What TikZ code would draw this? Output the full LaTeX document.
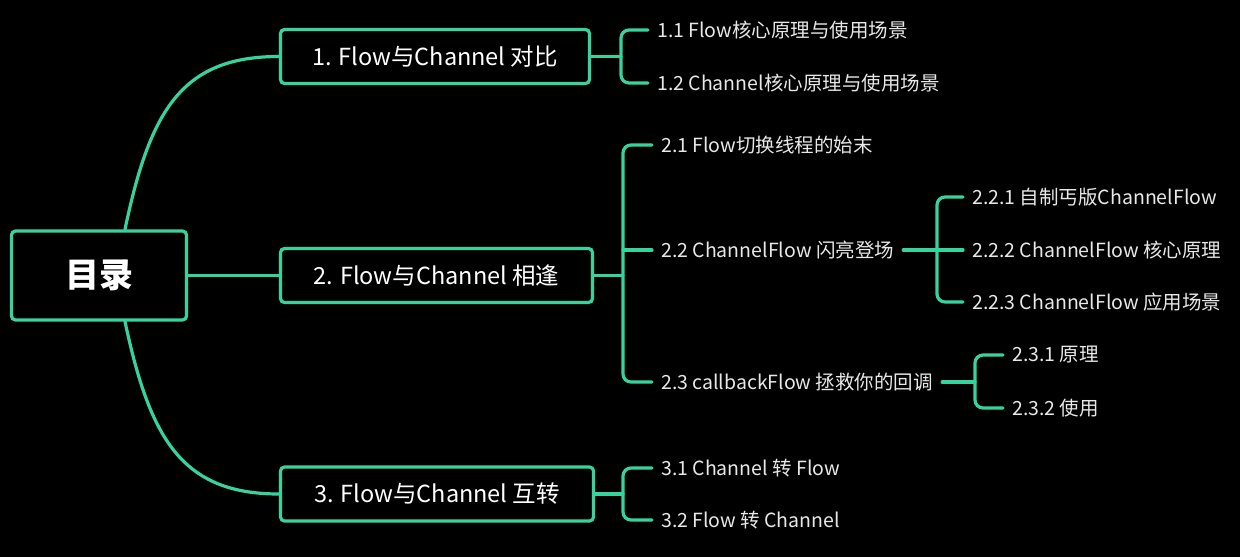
\documentclass[tikz,border=0pt]{standalone}
\usepackage{fontspec}
\setmainfont{Noto Sans CJK SC}
\definecolor{mmgreen}{HTML}{36D39E}
\definecolor{leaftext}{HTML}{E8E8E8}
\begin{document}
\begin{tikzpicture}[x=1pt,y=-1pt,
  conn/.style={draw=mmgreen,line width=3.2pt,line cap=round,line join=round},
  rootbox/.style={draw=mmgreen,line width=3.2pt,rounded corners=4pt,fill=black,
    minimum width=175pt,minimum height=89pt,inner sep=0pt,text=white,
    font=\fontsize{34}{40}\selectfont\bfseries},
  topicbox/.style={draw=mmgreen,line width=3.2pt,rounded corners=4pt,fill=black,
    minimum height=54pt,inner sep=0pt,text=white,
    font=\fontsize{23.5}{28}\selectfont},
  leaf/.style={anchor=west,inner xsep=9pt,inner ysep=0pt,text=leaftext,
    font=\fontsize{19.5}{23}\selectfont},
  bracket/.style={conn,rounded corners=8pt}]
\fill[black] (0,0) rectangle (1240,557);
\useasboundingbox (0,0) rectangle (1240,557);

% root and topics
\node[rootbox] (root) at (99,275.5) {目录};
\node[topicbox,minimum width=309pt] (b1) at (435,56.5) {1. Flow与Channel 对比};
\node[topicbox,minimum width=312pt] (b2) at (436.5,275.5) {2. Flow与Channel 相逢};
\node[topicbox,minimum width=313pt] (b3) at (437,494) {3. Flow与Channel 互转};

% leaves
\node[leaf] (c11) at (648,30) {1.1 Flow核心原理与使用场景};
\node[leaf] (c12) at (648,83) {1.2 Channel核心原理与使用场景};
\node[leaf] (c21) at (652,145) {2.1 Flow切换线程的始末};
\node[leaf] (c22) at (652,250) {2.2 ChannelFlow 闪亮登场};
\node[leaf] (c23) at (652,382) {2.3 callbackFlow 拯救你的回调};
\node[leaf] (c221) at (963,197) {2.2.1 自制丐版ChannelFlow};
\node[leaf] (c222) at (963,250) {2.2.2 ChannelFlow 核心原理};
\node[leaf] (c223) at (963,302) {2.2.3 ChannelFlow 应用场景};
\node[leaf] (c231) at (1003,355) {2.3.1 原理};
\node[leaf] (c232) at (1003,408) {2.3.2 使用};
\node[leaf] (c31) at (652,468) {3.1 Channel 转 Flow};
\node[leaf] (c32) at (652,520) {3.2 Flow 转 Channel};

% junctions
\coordinate (j1) at (621,56.5);
\coordinate (j2) at (623,275.5);
\coordinate (j3) at (623,494);
\coordinate (j22) at (937,250);
\coordinate (j23) at (975,382);

% root connectors
\draw[conn] ([xshift=26pt]root.north) .. controls (150,110) and (182,56.5) .. (b1.west);
\draw[conn] ([xshift=26pt]root.south) .. controls (150,439) and (182,494) .. (b3.west);
\draw[conn] (root.east) -- (b2.west);

% group 1
\draw[conn] (b1.east) -- (j1);
\draw[bracket] (c11.west) -| (j1) |- (c12.west);
% group 2
\draw[conn] (b2.east) -- (j2);
\draw[bracket] (c21.west) -| (j2) |- (c23.west);
\draw[conn] (j2 |- c22.west) -- (c22.west);
% group 2.2
\draw[conn] (c22.east) -- (j22);
\draw[bracket] (c221.west) -| (j22) |- (c223.west);
\draw[conn] (j22) -- (c222.west);
% group 2.3
\draw[conn] (c23.east) -- (j23);
\draw[bracket] (c231.west) -| (j23) |- (c232.west);
% group 3
\draw[conn] (b3.east) -- (j3);
\draw[bracket] (c31.west) -| (j3) |- (c32.west);
\end{tikzpicture}
\end{document}
